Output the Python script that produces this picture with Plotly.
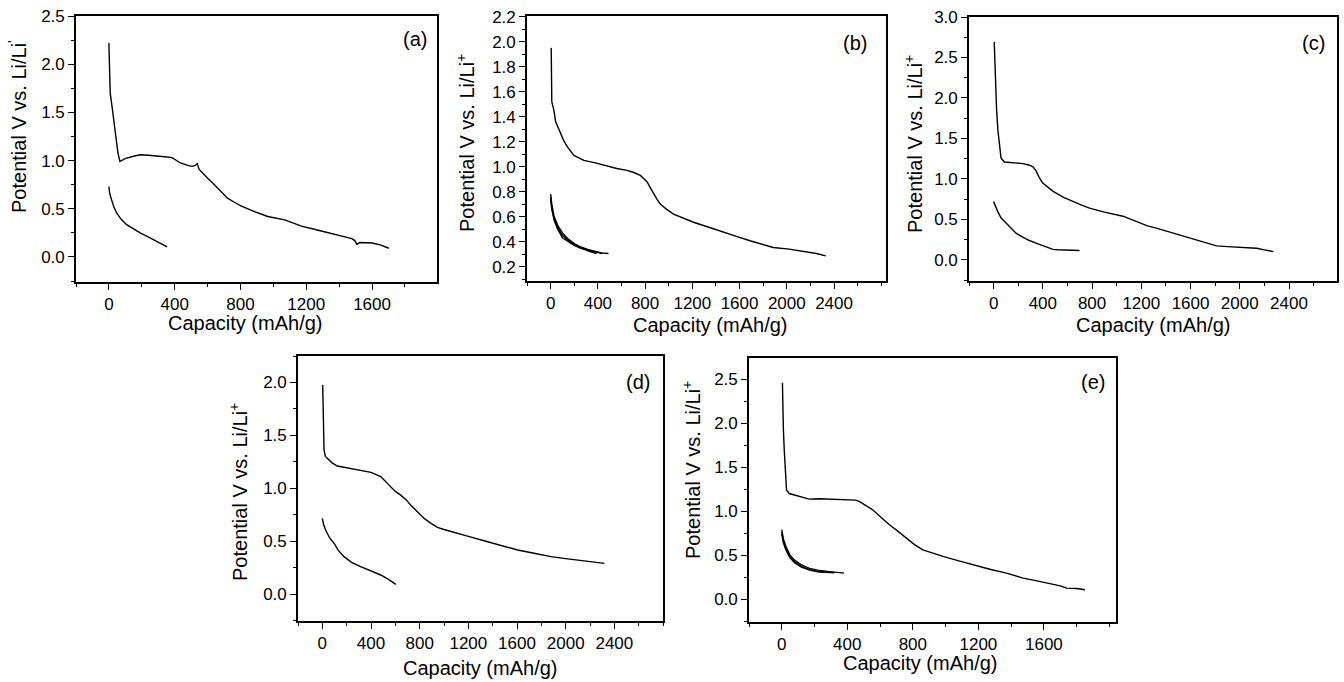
import plotly.graph_objects as go

W, H = 1344, 682

# ---------------- data ----------------
# panel (a)
a_first_cap = [0, 2, 8, 20, 40, 55, 67, 98, 150, 190, 240, 292, 340, 384, 435, 480, 507, 525, 537, 548, 575, 599, 630, 660, 690, 721, 760, 803, 885, 966, 1069, 1171, 1273, 1375, 1430, 1477, 1495, 1508, 1525, 1539, 1600, 1650, 1702]
a_first_v = [2.22, 1.95, 1.70, 1.55, 1.30, 1.08, 0.99, 1.02, 1.045, 1.06, 1.055, 1.05, 1.04, 1.03, 0.975, 0.95, 0.94, 0.95, 0.97, 0.91, 0.86, 0.82, 0.77, 0.72, 0.66, 0.61, 0.57, 0.53, 0.47, 0.42, 0.385, 0.32, 0.277, 0.23, 0.21, 0.19, 0.17, 0.13, 0.15, 0.15, 0.145, 0.125, 0.09]
a_cycle_cap = [0, 5, 16, 30, 47, 75, 108, 150, 190, 230, 272, 310, 354]
a_cycle_v = [0.73, 0.66, 0.595, 0.52, 0.456, 0.39, 0.335, 0.29, 0.249, 0.215, 0.18, 0.145, 0.104]

# panel (b)
b_first_cap = [5, 5, 6, 10, 20, 28, 42, 60, 84, 110, 141, 170, 197, 240, 281, 380, 478, 560, 647, 700, 760, 816, 845, 872, 900, 929, 980, 1041, 1120, 1210, 1340, 1463, 1580, 1688, 1790, 1885, 2020, 2167, 2250, 2330]
b_first_v = [1.95, 1.75, 1.56, 1.52, 1.48, 1.45, 1.36, 1.32, 1.27, 1.21, 1.16, 1.12, 1.09, 1.07, 1.05, 1.03, 1.005, 0.985, 0.97, 0.955, 0.93, 0.88, 0.83, 0.78, 0.74, 0.70, 0.66, 0.62, 0.59, 0.555, 0.515, 0.474, 0.44, 0.407, 0.38, 0.353, 0.34, 0.321, 0.305, 0.286]
b_c1_cap = [0, 10, 30, 60, 100, 150, 200, 260, 320, 380, 430, 490]
b_c1_v = [0.78, 0.70, 0.60, 0.53, 0.47, 0.42, 0.385, 0.355, 0.335, 0.32, 0.31, 0.305]
b_c2_cap = [0, 10, 30, 60, 100, 150, 200, 260, 320, 380, 440]
b_c2_v = [0.76, 0.67, 0.57, 0.50, 0.43, 0.40, 0.37, 0.345, 0.33, 0.315, 0.305]
b_c3_cap = [0, 10, 30, 60, 100, 150, 200, 260, 320, 390]
b_c3_v = [0.74, 0.66, 0.58, 0.51, 0.45, 0.41, 0.38, 0.35, 0.325, 0.305]

# panel (c)
c_first_cap = [5, 10, 16, 24, 35, 46, 60, 87, 130, 182, 240, 291, 320, 345, 370, 399, 440, 481, 560, 644, 710, 779, 900, 1051, 1120, 1187, 1250, 1322, 1460, 1594, 1700, 1811, 1900, 2001, 2137, 2200, 2273]
c_first_v = [2.69, 2.45, 2.23, 1.86, 1.60, 1.45, 1.26, 1.21, 1.205, 1.20, 1.19, 1.17, 1.15, 1.10, 1.02, 0.95, 0.90, 0.85, 0.78, 0.72, 0.68, 0.64, 0.59, 0.54, 0.50, 0.455, 0.42, 0.393, 0.33, 0.27, 0.22, 0.174, 0.165, 0.157, 0.145, 0.125, 0.103]
c_cycle_cap = [0, 10, 33, 60, 100, 140, 182, 240, 291, 350, 399, 440, 481, 520, 562, 630, 698]
c_cycle_v = [0.72, 0.68, 0.60, 0.52, 0.455, 0.385, 0.33, 0.28, 0.24, 0.205, 0.174, 0.15, 0.13, 0.126, 0.124, 0.12, 0.116]

# panel (d)
d_first_cap = [3, 5, 8, 11, 14, 25, 41, 80, 123, 220, 315, 400, 480, 520, 562, 600, 645, 690, 727, 780, 837, 890, 946, 1000, 1056, 1200, 1330, 1470, 1605, 1740, 1879, 2000, 2154, 2318]
d_first_v = [1.975, 1.80, 1.58, 1.45, 1.36, 1.30, 1.28, 1.24, 1.21, 1.19, 1.17, 1.15, 1.11, 1.06, 1.01, 0.97, 0.935, 0.89, 0.84, 0.78, 0.715, 0.67, 0.63, 0.61, 0.59, 0.545, 0.504, 0.46, 0.416, 0.385, 0.353, 0.335, 0.315, 0.29]
d_cycle_cap = [0, 10, 27, 60, 96, 130, 178, 240, 315, 400, 480, 540, 604]
d_cycle_v = [0.715, 0.66, 0.605, 0.53, 0.48, 0.415, 0.353, 0.30, 0.258, 0.22, 0.18, 0.14, 0.091]

# panel (e)
e_first_cap = [4, 6, 10, 15, 20, 29, 45, 106, 167, 230, 290, 350, 412, 450, 473, 510, 555, 605, 657, 710, 759, 810, 861, 920, 984, 1070, 1167, 1270, 1371, 1420, 1473, 1550, 1637, 1700, 1739, 1800, 1851]
e_first_v = [2.46, 2.20, 1.92, 1.70, 1.47, 1.24, 1.20, 1.167, 1.136, 1.14, 1.136, 1.132, 1.129, 1.125, 1.11, 1.07, 1.015, 0.93, 0.845, 0.77, 0.693, 0.62, 0.56, 0.52, 0.485, 0.44, 0.39, 0.34, 0.295, 0.27, 0.239, 0.21, 0.174, 0.15, 0.125, 0.12, 0.106]
e_c1_cap = [0, 10, 25, 50, 80, 120, 170, 220, 280, 330, 380]
e_c1_v = [0.79, 0.68, 0.60, 0.50, 0.44, 0.39, 0.35, 0.33, 0.315, 0.305, 0.295]
e_c2_cap = [0, 10, 25, 50, 80, 120, 170, 220, 270, 320]
e_c2_v = [0.76, 0.66, 0.57, 0.48, 0.42, 0.37, 0.335, 0.315, 0.305, 0.30]
e_c3_cap = [0, 10, 25, 50, 80, 120, 170, 220, 260]
e_c3_v = [0.74, 0.64, 0.56, 0.47, 0.41, 0.365, 0.33, 0.31, 0.305]

panel_labels = ["(a)", "(b)", "(c)", "(d)", "(e)"]
x_title = "Capacity (mAh/g)"
y_titles = ["Potential V vs. Li/Li<sup>'</sup>"] + ["Potential V vs. Li/Li<sup>+</sup>"] * 4

# ---------------- layout geometry (pixels) ----------------
FONT = "Liberation Sans, Arial, Helvetica, sans-serif"
boxes = [  # x0, x1, y0(top), y1(bottom)
    (76, 437, 16, 282),
    (527, 886, 16, 281),
    (969, 1337, 17, 281),
    (298, 663, 356, 621),
    (749, 1116, 358, 622),
]
xranges = [[-200, 1995], [-200, 2840], [-200, 2790], [-200, 2800], [-200, 2040]]
xticks = [[0, 400, 800, 1200, 1600], [0, 400, 800, 1200, 1600, 2000, 2400],
          [0, 400, 800, 1200, 1600, 2000, 2400], [0, 400, 800, 1200, 1600, 2000, 2400],
          [0, 400, 800, 1200, 1600]]
yranges = [[-0.26, 2.5], [0.085, 2.205], [-0.26, 3.0], [-0.255, 2.25], [-0.26, 2.74]]
ydt = [0.5, 0.2, 0.5, 0.5, 0.5]

curves = [
    [(a_first_cap, a_first_v), (a_cycle_cap, a_cycle_v)],
    [(b_first_cap, b_first_v), (b_c1_cap, b_c1_v), (b_c2_cap, b_c2_v), (b_c3_cap, b_c3_v)],
    [(c_first_cap, c_first_v), (c_cycle_cap, c_cycle_v)],
    [(d_first_cap, d_first_v), (d_cycle_cap, d_cycle_v)],
    [(e_first_cap, e_first_v), (e_c1_cap, e_c1_v), (e_c2_cap, e_c2_v), (e_c3_cap, e_c3_v)],
]

fig = go.Figure()
layout = dict(
    width=W, height=H, margin=dict(l=0, r=0, t=0, b=0, pad=0, autoexpand=False),
    paper_bgcolor="white", plot_bgcolor="white", showlegend=False,
    font=dict(family=FONT, color="black", size=17),
)
annotations = []

label_pos = [(415, 39), (855, 43), (1313, 43), (638, 382), (1093, 382)]
xt_pos = [(245, 323), (710, 325), (1153, 325), (480, 668), (920, 663)]
yt_pos = [(17, 127), (465, 143), (913, 144), (238, 492), (691, 470)]

for i in range(5):
    n = "" if i == 0 else str(i + 1)
    x0, x1, y0, y1 = boxes[i]
    for cap, v in curves[i]:
        fig.add_trace(go.Scatter(x=cap, y=v, mode="lines", xaxis="x" + n, yaxis="y" + n,
                                 line=dict(color="black", width=1.4), hoverinfo="skip"))
    common = dict(showgrid=False, zeroline=False, showline=True, linecolor="black",
                  linewidth=1.6, mirror=True, ticks="outside", ticklen=6, tickwidth=1.2,
                  tickcolor="black", automargin=False,
                  tickfont=dict(family=FONT, size=17, color="black"))
    layout["xaxis" + n] = dict(domain=[x0 / W, x1 / W], anchor="y" + n, range=xranges[i],
                               tickmode="array", tickvals=xticks[i],
                               minor=dict(dtick=200, tick0=0, ticks="outside", ticklen=3,
                                          tickwidth=1, tickcolor="black"),
                               **common)
    layout["yaxis" + n] = dict(domain=[1 - y1 / H, 1 - y0 / H], anchor="x" + n, range=yranges[i],
                               dtick=ydt[i], tick0=0, tickformat=".1f",
                               minor=dict(dtick=ydt[i] / 2, tick0=0, ticks="outside", ticklen=3,
                                          tickwidth=1, tickcolor="black"),
                               **common)
    lx, ly = label_pos[i]
    annotations.append(dict(text=panel_labels[i], x=lx / W, y=1 - ly / H, xref="paper", yref="paper",
                            showarrow=False, font=dict(family=FONT, size=20, color="black"),
                            xanchor="center", yanchor="middle"))
    tx, ty = xt_pos[i]
    annotations.append(dict(text=x_title, x=tx / W, y=1 - ty / H, xref="paper", yref="paper",
                            showarrow=False, font=dict(family=FONT, size=20, color="black"),
                            xanchor="center", yanchor="middle"))
    ux, uy = yt_pos[i]
    annotations.append(dict(text=y_titles[i], x=ux / W, y=1 - uy / H, xref="paper", yref="paper",
                            showarrow=False, textangle=-90,
                            font=dict(family=FONT, size=20, color="black"),
                            xanchor="center", yanchor="middle"))

layout["annotations"] = annotations
fig.update_layout(**layout)
fig.write_html("out.html", config={"displayModeBar": False},
               post_script="document.body.style.margin='0';document.body.style.overflow='hidden';")
